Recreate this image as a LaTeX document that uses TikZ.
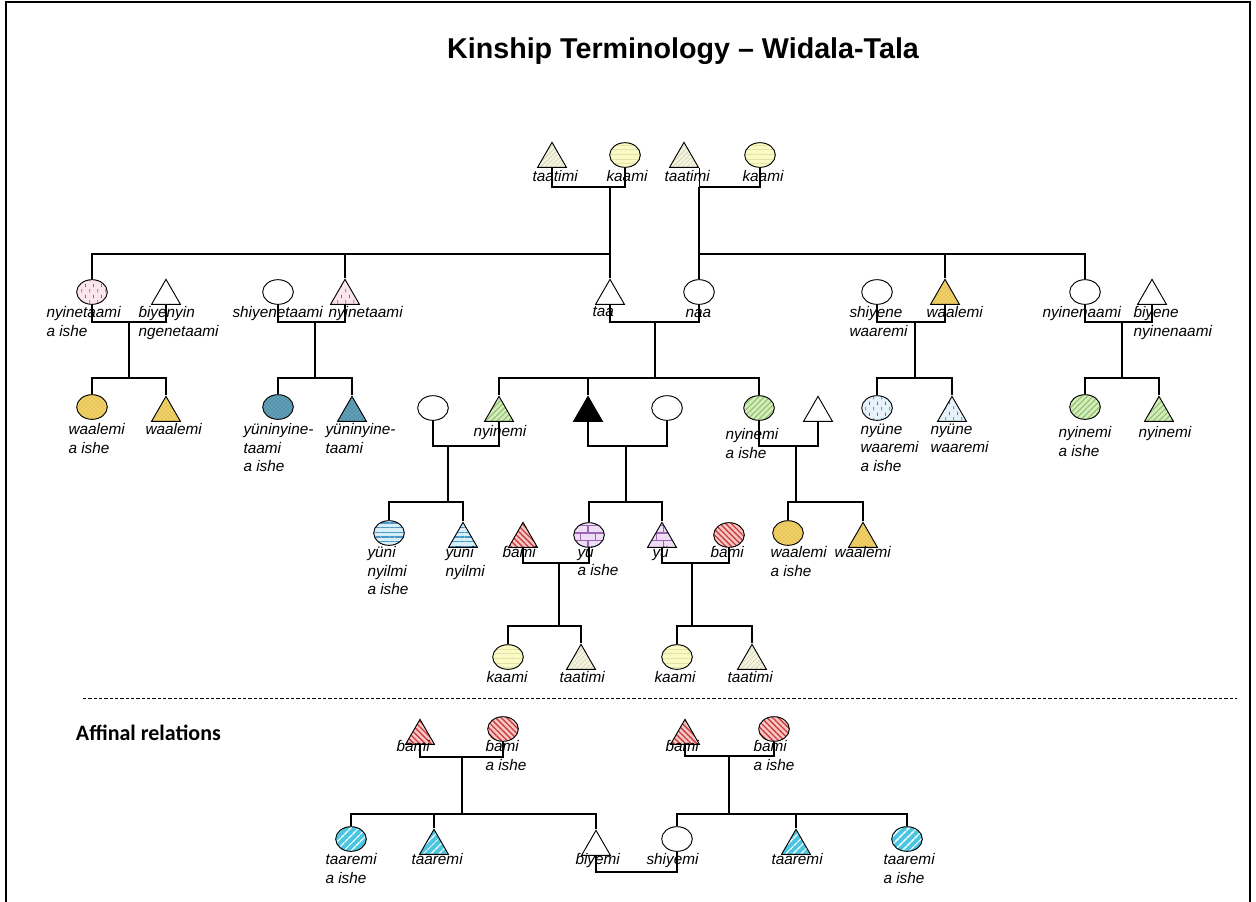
\documentclass[tikz,border=0pt]{standalone}
\usepackage{fontspec}
\setmainfont{Liberation Sans}
\newfontfamily\affinfont{Carlito}
\usepackage{tikz}
\usetikzlibrary{shapes.geometric,patterns,patterns.meta}

\definecolor{taatFill}{HTML}{F3F3E0}
\definecolor{taatLine}{HTML}{C9C9A4}
\definecolor{kaamFill}{HTML}{FAFAC6}
\definecolor{kaamLine}{HTML}{E2E2A2}
\definecolor{nytaFill}{HTML}{FCE6EE}
\definecolor{nytaLine}{HTML}{D04A68}
\definecolor{waalFill}{HTML}{F2D36B}
\definecolor{waalLine}{HTML}{C29424}
\definecolor{yntFill}{HTML}{62A0B8}
\definecolor{yntLine}{HTML}{2E6A84}
\definecolor{nyinFill}{HTML}{D3EBBD}
\definecolor{nyinLine}{HTML}{8EC266}
\definecolor{nyunFill}{HTML}{E6F3FA}
\definecolor{nyunLine}{HTML}{3A7FB0}
\definecolor{yuniFill}{HTML}{D8EFF8}
\definecolor{yuniLine}{HTML}{4A98C6}
\definecolor{bamiFill}{HTML}{F7C8C8}
\definecolor{bamiLine}{HTML}{CC3A3A}
\definecolor{yuFill}{HTML}{EEDDF5}
\definecolor{yuLine}{HTML}{9966B3}
\definecolor{taarFill}{HTML}{4CC6E0}

\pgfdeclarepatternformonly{vdashes}{\pgfpointorigin}{\pgfqpoint{6pt}{8pt}}{\pgfqpoint{6pt}{8pt}}{%
  \pgfsetlinewidth{0.6pt}%
  \pgfpathmoveto{\pgfqpoint{1.5pt}{0.5pt}}\pgfpathlineto{\pgfqpoint{1.5pt}{3pt}}%
  \pgfpathmoveto{\pgfqpoint{4.5pt}{4.5pt}}\pgfpathlineto{\pgfqpoint{4.5pt}{7pt}}%
  \pgfusepath{stroke}}

\newcommand{\kinlbl}{\fontsize{11.5}{14}\selectfont\itshape}

\tikzset{
  male/.style={regular polygon, regular polygon sides=3, minimum size=25pt, inner sep=0pt, draw, line width=0.7pt},
  female/.style={ellipse, minimum width=23pt, minimum height=18.5pt, inner sep=0pt, draw, line width=0.7pt},
  kin/.style={font=\kinlbl, align=left, inner sep=0pt, anchor=north west},
  pTaat/.style={preaction={fill=taatFill}, pattern={Lines[angle=45,distance=2.5pt,line width=0.3pt]}, pattern color=taatLine},
  pKaam/.style={preaction={fill=kaamFill}, pattern={Lines[angle=0,distance=3.5pt,line width=0.3pt]}, pattern color=kaamLine},
  pNyta/.style={preaction={fill=nytaFill}, pattern=vdashes, pattern color=nytaLine},
  pWaal/.style={preaction={fill=waalFill}, pattern=crosshatch dots, pattern color=waalLine},
  pYnt/.style={preaction={fill=yntFill}, pattern=crosshatch dots, pattern color=yntLine},
  pNyin/.style={preaction={fill=nyinFill}, pattern={Lines[angle=45,distance=3pt,line width=0.8pt]}, pattern color=nyinLine},
  pNyun/.style={preaction={fill=nyunFill}, pattern=vdashes, pattern color=nyunLine},
  pYuni/.style={preaction={fill=yuniFill}, pattern={Lines[angle=0,distance=3.5pt,line width=1pt]}, pattern color=yuniLine},
  pBami/.style={preaction={fill=bamiFill}, pattern={Lines[angle=-45,distance=3pt,line width=1pt]}, pattern color=bamiLine},
  pYu/.style={preaction={fill=yuFill}, pattern=bricks, pattern color=yuLine},
  pTaar/.style={preaction={fill=taarFill}, pattern={Lines[angle=45,distance=4pt,line width=1.2pt]}, pattern color=white},
}

\begin{document}
\begin{tikzpicture}[x=0.75pt,y=-0.75pt,line width=0.8pt]
\useasboundingbox (0,0) rectangle (1256,901);
\draw[line width=1.6pt] (6,910) -- (6,2) -- (1250,2) -- (1250,910);
\node[font=\fontsize{21.5}{26}\selectfont\bfseries] (title) at (683,51) {Kinship Terminology – Widala-Tala};

% grandparents
\node[male,pTaat] (taatA) at (552,159) {};
\node[female,pKaam] (kaamA) at (625,155) {};
\node[male,pTaat] (taatB) at (684,159) {};
\node[female,pKaam] (kaamB) at (760,155) {};
\node[kin] (lTaatA) at (532,170) {taatimi};
\node[kin] (lKaamA) at (606,170) {kaami};
\node[kin] (lTaatB) at (664,170) {taatimi};
\node[kin] (lKaamB) at (742,170) {kaami};

% parents' generation
\node[female,pNyta] (nyitW) at (92,292) {};
\node[male] (biyen) at (166,296) {};
\node[female] (shiyt) at (278,292) {};
\node[male,pNyta] (nyitM) at (345,296) {};
\node[male] (taa) at (610,296) {};
\node[female] (naa) at (699,292) {};
\node[female] (shiyw) at (877,292) {};
\node[male,pWaal] (waalM) at (945,296) {};
\node[female] (nyinen) at (1085,292) {};
\node[male] (biyene) at (1152,296) {};
\node[kin] (lNyitW) at (46,306) {nyinetaami\\a ishe};
\node[kin] (lBiyen) at (138,306) {ɓiyenyin\\ngenetaami};
\node[kin] (lShiyt) at (232,306) {shiyenetaami};
\node[kin] (lNyitM) at (328,306) {nyinetaami};
\node[kin] (lTaa) at (592,306) {taa};
\node[kin] (lNaa) at (685,309) {naa};
\node[kin] (lShiyw) at (849,306) {shiyene\\waaremi};
\node[kin] (lWaalM) at (926,306) {waalemi};
\node[kin] (lNyinen) at (1042,306) {nyinenaami};
\node[kin] (lBiyene) at (1133,306) {ɓiyene\\nyinenaami};

% ego's generation
\node[female,pWaal] (waalW) at (92,407) {};
\node[male,pWaal] (waalMa) at (166,413) {};
\node[female,pYnt] (yntW) at (278,407) {};
\node[male,pYnt] (yntM) at (352,413) {};
\node[female] (wifeN) at (433,408) {};
\node[male,pNyin] (nyinM) at (499,413) {};
\node[male,fill=black] (ego) at (588,413) {};
\node[female] (wifeE) at (667,408) {};
\node[female,pNyin] (nyinW) at (759,408) {};
\node[male] (husN) at (818,413) {};
\node[female,pNyun] (nyunW) at (877,408) {};
\node[male,pNyun] (nyunM) at (952,413) {};
\node[female,pNyin] (nyinWb) at (1085,407) {};
\node[male,pNyin] (nyinMb) at (1159,413) {};
\node[kin] (lWaalW) at (68,423) {waalemi\\a ishe};
\node[kin] (lWaalMa) at (145,423) {waalemi};
\node[kin] (lYntW) at (243,423) {yüninyine-\\taami\\a ishe};
\node[kin] (lYntM) at (325,423) {yüninyine-\\taami};
\node[kin] (lNyinM) at (473,425) {nyinemi};
\node[kin] (lNyinW) at (725,428) {nyinemi\\a ishe};
\node[kin] (lNyunW) at (860,423) {nyüne\\waaremi\\a ishe};
\node[kin] (lNyunM) at (930,423) {nyüne\\waaremi};
\node[kin] (lNyinWb) at (1058,426) {nyinemi\\a ishe};
\node[kin] (lNyinMb) at (1138,426) {nyinemi};

% children
\node[female,pYuni] (yuniW) at (389,533) {};
\node[male,pYuni] (yuniM) at (463,539) {};
\node[male,pBami] (bamiM) at (523,539) {};
\node[female,pYu] (yuW) at (589,535) {};
\node[male,pYu] (yuM) at (662,539) {};
\node[female,pBami] (bamiW) at (729,535) {};
\node[female,pWaal] (waalWc) at (788,533) {};
\node[male,pWaal] (waalMc) at (863,539) {};
\node[kin] (lYuniW) at (367,546) {yüni\\nyilmi\\a ishe};
\node[kin] (lYuniM) at (445,546) {yüni\\nyilmi};
\node[kin] (lBamiM) at (502,546) {ɓami};
\node[kin] (lYuW) at (577,546) {yü\\a ishe};
\node[kin] (lYuM) at (652,546) {yü};
\node[kin] (lBamiW) at (710,546) {ɓami};
\node[kin] (lWaalWc) at (770,546) {waalemi\\a ishe};
\node[kin] (lWaalMc) at (834,546) {waalemi};

% grandchildren
\node[female,pKaam] (kaamC) at (508,657) {};
\node[male,pTaat] (taatC) at (581,661) {};
\node[female,pKaam] (kaamD) at (677,657) {};
\node[male,pTaat] (taatD) at (752,661) {};
\node[kin] (lKaamC) at (486,671) {kaami};
\node[kin] (lTaatC) at (559,671) {taatimi};
\node[kin] (lKaamD) at (654,671) {kaami};
\node[kin] (lTaatD) at (727,671) {taatimi};

\draw[line width=0.6pt,dash pattern=on 2.5pt off 1.5pt] (83,698) -- (1237,698);

% affinal relations
\node[font=\affinfont\fontsize{16.5}{19}\selectfont\bfseries, anchor=west] (affin) at (71,733) {Affinal relations};
\node[male,pBami] (bamiAm) at (420,736) {};
\node[female,pBami] (bamiAw) at (503,729) {};
\node[male,pBami] (bamiBm) at (685,736) {};
\node[female,pBami] (bamiBw) at (774,729) {};
\node[female,pTaar] (taarAw) at (351,839) {};
\node[male,pTaar] (taarAm) at (434,846) {};
\node[male] (biyemi) at (596,847) {};
\node[female] (shiyemi) at (677,839) {};
\node[male,pTaar] (taarBm) at (796,846) {};
\node[female,pTaar] (taarBw) at (907,839) {};
\node[kin] (lBamiAm) at (396,740) {ɓami};
\node[kin] (lBamiAw) at (485,740) {ɓami\\a ishe};
\node[kin] (lBamiBm) at (665,740) {ɓami};
\node[kin] (lBamiBw) at (753,740) {ɓami\\a ishe};
\node[kin] (lTaarAw) at (325,853) {taaremi\\a ishe};
\node[kin] (lTaarAm) at (411,853) {taaremi};
\node[kin] (lBiyemi) at (575,853) {ɓiyemi};
\node[kin] (lShiyemi) at (646,853) {shiyemi};
\node[kin] (lTaarBm) at (771,853) {taaremi};
\node[kin] (lTaarBw) at (883,853) {taaremi\\a ishe};

% junction points
\coordinate (jA) at (610,187); \coordinate (sA) at (610,254);
\coordinate (jB) at (699,187); \coordinate (sB) at (699,254);
\coordinate (jC) at (129,322); \coordinate (sC) at (129,378);
\coordinate (jD) at (315,322); \coordinate (sD) at (315,378);
\coordinate (jE) at (655,322); \coordinate (sE) at (655,378);
\coordinate (jF) at (915,322); \coordinate (sF) at (915,378);
\coordinate (jG) at (1122,322); \coordinate (sG) at (1122,378);
\coordinate (jH) at (448,446); \coordinate (sH) at (448,502);
\coordinate (jI) at (626,446); \coordinate (sI) at (626,502);
\coordinate (jJ) at (796,446); \coordinate (sJ) at (796,502);
\coordinate (jK) at (559,563); \coordinate (sK) at (559,626);
\coordinate (jL) at (692,563); \coordinate (sL) at (692,626);
\coordinate (jM) at (462,757); \coordinate (sM) at (462,814);
\coordinate (jN) at (729,756); \coordinate (sN) at (729,814);
\coordinate (mar) at (636,872);

% lines of descent
\draw (taatA.south) |- (jA) -| (kaamA.south);
\draw (taatB.corner 3) |- (jB) -| (kaamB.south);
\draw (jA) -- (sA);
\draw (jB) -- (sB);
\draw (nyitW.north) |- (sA);
\draw (nyitM.north) -- (nyitM.north |- sA);
\draw (taa.north) -- (taa.north |- sA);
\draw (naa.north) -- (sB) -| (nyinen.north);
\draw (waalM.north) -- (waalM.north |- sB);

\draw (nyitW.south) |- (jC) -| (biyen.south);
\draw (jC) -- (sC);
\draw (waalW.north) |- (sC) -| (waalMa.north);
\draw (shiyt.south) |- (jD) -| (nyitM.south);
\draw (jD) -- (sD);
\draw (yntW.north) |- (sD) -| (yntM.north);
\draw (taa.south) |- (jE) -| (naa.south);
\draw (jE) -- (sE);
\draw (nyinM.north) |- (sE) -| (nyinW.north);
\draw (ego.north) -- (ego.north |- sE);
\draw (shiyw.south) |- (jF) -| (waalM.south);
\draw (jF) -- (sF);
\draw (nyunW.north) |- (sF) -| (nyunM.north);
\draw (nyinen.south) |- (jG) -| (biyene.south);
\draw (jG) -- (sG);
\draw (nyinWb.north) |- (sG) -| (nyinMb.north);

\draw (wifeN.south) |- (jH) -| (nyinM.south);
\draw (jH) -- (sH);
\draw (yuniW.north) |- (sH) -| (yuniM.north);
\draw (ego.south) |- (jI) -| (wifeE.south);
\draw (jI) -- (sI);
\draw (yuW.north) |- (sI) -| (yuM.north);
\draw (nyinW.south) |- (jJ) -| (husN.south);
\draw (jJ) -- (sJ);
\draw (waalWc.north) |- (sJ) -| (waalMc.north);

\draw (bamiM.south) |- (jK) -| (yuW.south);
\draw (jK) -- (sK);
\draw (kaamC.north) |- (sK) -| (taatC.north);
\draw (yuM.south) |- (jL) -| (bamiW.south);
\draw (jL) -- (sL);
\draw (kaamD.north) |- (sL) -| (taatD.north);

\draw (bamiAm.south) |- (jM) -| (bamiAw.south);
\draw (jM) -- (sM);
\draw (taarAw.north) |- (sM) -| (biyemi.north);
\draw (taarAm.north) -- (taarAm.north |- sM);
\draw (bamiBm.south) |- (jN) -| (bamiBw.south);
\draw (jN) -- (sN);
\draw (shiyemi.north) |- (sN) -| (taarBw.north);
\draw (taarBm.north) -- (taarBm.north |- sN);
\draw (biyemi.south) |- (mar) -| (shiyemi.south);
\end{tikzpicture}
\end{document}
